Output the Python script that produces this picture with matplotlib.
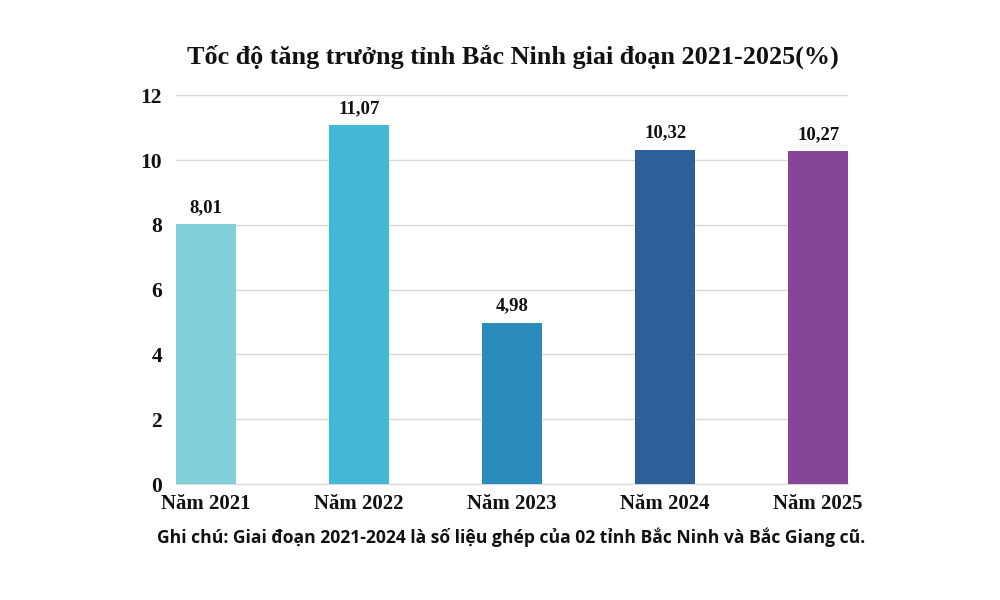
import matplotlib
matplotlib.use('Agg')
import matplotlib.pyplot as plt

# DATA
years = ['Năm 2021', 'Năm 2022', 'Năm 2023', 'Năm 2024', 'Năm 2025']
growth = [8.01, 11.07, 4.98, 10.32, 10.27]
value_labels = ['8,01', '11,07', '4,98', '10,32', '10,27']
y_ticks = [0, 2, 4, 6, 8, 10, 12]
bar_colors = ['#80d0da', '#42b8d5', '#2a8cba', '#2e5f99', '#874598']

title = 'Tốc độ tăng trưởng tỉnh Bắc Ninh giai đoạn 2021-2025(%)'
note = 'Ghi chú: Giai đoạn 2021-2024 là số liệu ghép của 02 tỉnh Bắc Ninh và Bắc Giang cũ.'

serif = 'Liberation Serif'

fig = plt.figure(figsize=(10, 6), dpi=100)
ax = fig.add_axes([0.176, 0.1933, 0.672, 0.648])

w = 0.39
x = list(range(len(years)))
bars = ax.bar(x, growth, width=w, color=bar_colors, zorder=3)

for xi, v, lab in zip(x, growth, value_labels):
    ax.text(xi, v + 0.25, lab, ha='center', va='bottom', fontsize=13.5,
            fontweight='bold', family=serif, color='#111111')

ax.set_xlim(-w / 2, len(years) - 1 + w / 2)
ax.set_ylim(0, 12)
ax.set_yticks(y_ticks)
ax.set_yticklabels([str(t) for t in y_ticks], fontsize=15.5, fontweight='bold',
                   family=serif, color='#111111')
ax.set_xticks(x)
ax.set_xticklabels(years, fontsize=15, fontweight='bold', family=serif, color='#111111')
ax.tick_params(axis='both', length=0)
ax.tick_params(axis='y', pad=10)
ax.tick_params(axis='x', pad=7)

ax.grid(axis='y', color='#d9d9d9', linewidth=1, zorder=0)
for s in ['top', 'right', 'left']:
    ax.spines[s].set_visible(False)
ax.spines['bottom'].set_color('#d9d9d9')

fig.text(0.513, 0.905, title, ha='center', va='center', fontsize=18.8,
         fontweight='bold', family=serif, color='#111111')
fig.text(0.511, 0.105, note, ha='center', va='center', fontsize=12.6,
         fontweight='bold', family='Open Sans', color='#111111')

fig.savefig('out.png', dpi=100, facecolor='white')
